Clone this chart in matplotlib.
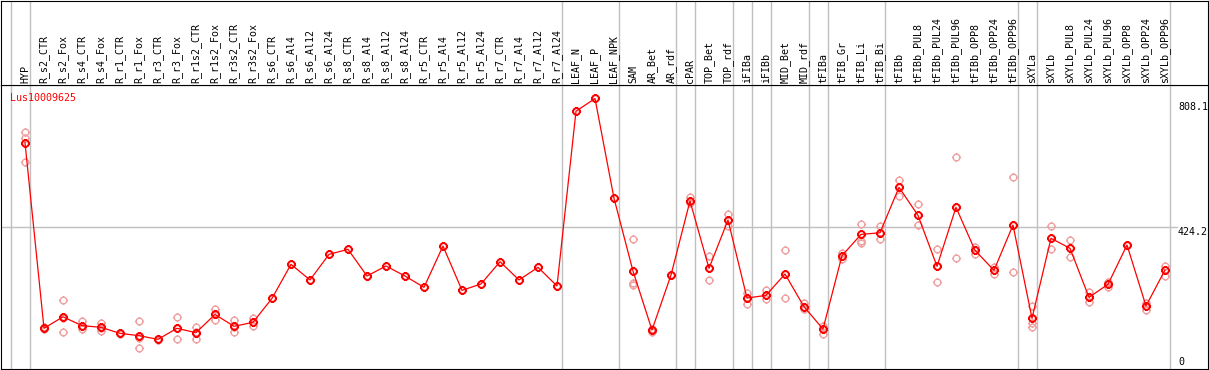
import matplotlib
matplotlib.use("Agg")
import matplotlib.pyplot as plt
import numpy as np
from matplotlib.path import Path

# sample names along the top
categories = [
    "HYP",
    "R_s2_CTR", "R_s2_Fox", "R_s4_CTR", "R_s4_Fox", "R_r1_CTR", "R_r1_Fox",
    "R_r3_CTR", "R_r3_Fox", "R_r1s2_CTR", "R_r1s2_Fox", "R_r3s2_CTR", "R_r3s2_Fox",
    "R_s6_CTR", "R_s6_Al4", "R_s6_Al12", "R_s6_Al24",
    "R_s8_CTR", "R_s8_Al4", "R_s8_Al12", "R_s8_Al24",
    "R_r5_CTR", "R_r5_Al4", "R_r5_Al12", "R_r5_Al24",
    "R_r7_CTR", "R_r7_Al4", "R_r7_Al12", "R_r7_Al24",
    "LEAF_N", "LEAF_P", "LEAF_NPK",
    "SAM", "AR_Bet", "AR_rdf",
    "cPAR",
    "TOP_Bet", "TOP_rdf",
    "iFIBa",
    "iFIBb",
    "MID_Bet", "MID_rdf",
    "tFIBa",
    "tFIB_Gr", "tFIB_Li", "tFIB_Bi",
    "tFIBb", "tFIBb_PUL8", "tFIBb_PUL24", "tFIBb_PUL96",
    "tFIBb_OPP8", "tFIBb_OPP24", "tFIBb_OPP96",
    "sXYLa",
    "sXYLb", "sXYLb_PUL8", "sXYLb_PUL24", "sXYLb_PUL96",
    "sXYLb_OPP8", "sXYLb_OPP24", "sXYLb_OPP96",
]

# how many samples sit in each block between the grey separators
group_sizes = [1, 28, 3, 3, 1, 2, 1, 1, 2, 1, 3, 7, 1, 7]

gene_name = "Lus10009625"

means = [
    676, 121.5, 156, 129.5, 124.5, 106.5, 99.5, 88.6, 121.5, 108.5, 163, 127.5, 139.5,
    211, 312.7, 266, 342.5, 357.5, 277.8, 307.7, 277.8, 244, 367.4, 235, 254,
    320.5, 266, 303.8, 248,
    770, 808.1, 510,
    292.7, 116.5, 280.8,
    501.9,
    300.8, 445,
    212,
    220,
    283.8, 186,
    119.5,
    338.5, 402, 407,
    542.7, 459, 306.7, 483, 354.5, 294.8, 430,
    151.4,
    390.4, 360.6, 214, 253, 370.4, 188.2, 295.7,
]

replicates = [
    [709, 691, 617],
    [124, 119, 121], [206, 153, 110], [143, 127, 118.5], [136.5, 122, 114.5],
    [108, 105, 107], [143, 94, 62], [90, 87, 89], [154, 122, 88.6],
    [124.5, 112, 88.6], [180, 163, 146], [146.4, 126, 109.6], [151.4, 139, 128.5],
    [], [], [], [], [], [], [], [], [], [], [], [], [], [], [], [],
    [], [], [],
    [388, 258, 252], [118, 112, 119], [281, 280],
    [513, 495],
    [337.6, 265], [463, 428],
    [226, 195],
    [235, 208],
    [354.5, 211], [196, 180],
    [128.5, 104.5],
    [347.5, 329.5], [432, 383, 377], [427, 389],
    [564.6, 516.8], [492, 430], [357.5, 260], [632.4, 330.6],
    [365.4, 343.5], [305.6, 283.8], [572.6, 289.8],
    [188.2, 136.5, 124.6],
    [427, 357.5], [385.4, 335.5], [230, 200], [261, 246],
    [370], [196, 176], [308.6, 278.7],
]

y_top = 848.4
ytick_values = [0, 424.2, 808.1]
ytick_labels = ["0", "424.2", "808.1"]

W, H = 1209, 370
RED = "#ff0000"
PINK = "#f0a0a0"
GREY = "#c0c0c0"
FONT = "DejaVu Sans Mono"


def sun_marker():
    # open circle with four little ticks poking out
    circ = Path.unit_circle()
    r0, r1 = 1.0, 1.35
    verts = [(0, r0), (0, r1), (0, -r0), (0, -r1),
             (r0, 0), (r1, 0), (-r0, 0), (-r1, 0)]
    codes = [Path.MOVETO, Path.LINETO] * 4
    return Path.make_compound_path(circ, Path(verts, codes))


fig = plt.figure(figsize=(W / 100, H / 100), dpi=100)

# x pixel of sample i is 25 + 19*i ; frame from px 1 to 1207.5
x_left = (1 - 25) / 19
x_right = (1207.5 - 25) / 19

ax = fig.add_axes([1 / W, 1 / H, 1206.5 / W, 284 / H])
head = fig.add_axes([1 / W, 285 / H, 1206.5 / W, 84.5 / H])

for a in (ax, head):
    a.set_xlim(x_left, x_right)
    a.set_xticks([])
    a.set_yticks([])
    for s in a.spines.values():
        s.set_linewidth(0.8)
        s.set_color("black")

ax.set_ylim(0, y_top)
head.set_ylim(0, 1)

# grey separators between sample groups
bounds = [-1] + list(np.cumsum(group_sizes) - 1)
for b in bounds:
    for a in (ax, head):
        a.axvline(b + 0.26, color=GREY, lw=1.0, zorder=0)

# middle gridline
ax.axhline(ytick_values[1], xmin=0, xmax=(1177 - 1) / 1206.5, color=GREY, lw=1.0, zorder=0)

x = np.arange(len(categories))
marker = sun_marker()

rx = [i for i, reps in enumerate(replicates) for _ in reps]
ry = [v for reps in replicates for v in reps]
ax.plot(rx, ry, ls="none", marker=marker, ms=6.5, mfc="none", mec=PINK, mew=1.0, zorder=2)

ax.plot(x, means, color=RED, lw=0.9, marker=marker, ms=6.5, mfc="none", mec=RED,
        mew=1.4, zorder=3)

# sample labels, vertical, sitting on the header bottom line
for i, name in enumerate(categories):
    head.text(i, 0.025, name, rotation=90, ha="center", va="bottom",
              fontsize=7.2, family=FONT, color="black")

fig.text(10 / W, (H - 97.7) / H, gene_name, color=RED, fontsize=7.2, family=FONT,
         ha="left", va="center")

# value labels in the right column
offsets = [7.3, -4.7, -8.2]
for v, lab, off in zip(ytick_values, ytick_labels, offsets):
    ax.annotate(lab, xy=(1, v), xycoords=("axes fraction", "data"),
                xytext=(-29.5, off), textcoords="offset pixels",
                ha="left", va="center", fontsize=7.2, family=FONT, color="black",
                annotation_clip=False)

fig.savefig("out.png", dpi=100, facecolor="white")
